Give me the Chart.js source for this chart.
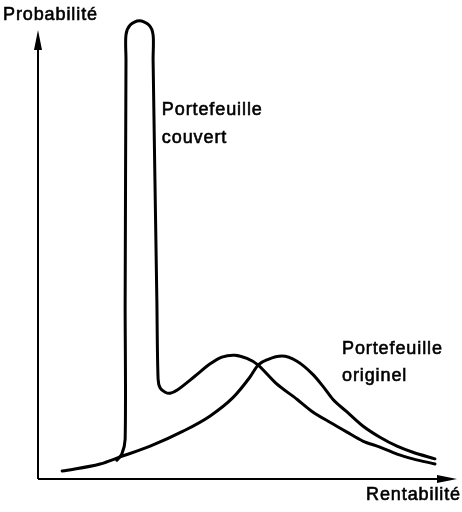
<!DOCTYPE html>
<html>
<head>
<meta charset="utf-8">
<script src="https://cdn.jsdelivr.net/npm/chart.js@4"></script>
<style>
  html, body { margin: 0; padding: 0; background: #fff; }
  #wrap { width: 462px; height: 512px; }
</style>
</head>
<body>
<div id="wrap"><canvas id="chart"></canvas></div>
<script>
// courbes (rentabilité 0-100, probabilité 0-100)
const originelX = [5.8, 14.9, 19.7, 26.9, 34.8, 41.2, 46.8, 50.8, 52.8, 55.2, 58.5, 62.1, 65.9, 68.3, 70.7, 74.1, 77.9, 82.0, 86.1, 89.9, 95.2];
const originelY = [1.7, 3.2, 4.7, 7.0, 10.2, 13.4, 17.4, 21.7, 24.3, 25.5, 26.2, 25.1, 22.3, 19.8, 17.0, 14.3, 11.3, 8.9, 7.0, 5.7, 4.3];
const couvertX = [18.9, 20.1, 20.9, 20.9, 21.1, 21.1, 22.1, 24.3, 26.6, 27.6, 27.6, 28.5, 28.8, 29.3, 30.5, 31.7, 33.6, 37.6, 41.2, 44.1, 47.2, 50.1, 52.8, 57.1, 62.1, 65.9, 70.0, 74.1, 77.9, 82.0, 86.1, 89.9, 95.2];
const couvertY = [4.0, 5.3, 8.5, 38.3, 89.4, 94.7, 96.8, 97.7, 96.8, 94.7, 89.4, 38.3, 21.3, 19.4, 18.5, 18.3, 19.1, 21.9, 24.5, 26.0, 26.4, 25.7, 24.3, 20.4, 17.0, 14.3, 12.1, 10.0, 8.1, 6.8, 5.3, 4.3, 3.2];

const axisX = 'Rentabilité';
const axisY = 'Probabilité';
const labelCouvert = ['Portefeuille', 'couvert'];
const labelOriginel = ['Portefeuille', 'originel'];

const toPoints = (xs, ys) => xs.map((x, i) => ({ x, y: ys[i] }));

const FONT = '18px "Liberation Sans", Arial, sans-serif';

function label(ctx, txt, px, py) {
    ctx.fillText(txt, px, py);
    ctx.strokeText(txt, px, py);
}

// axes avec flèches + textes
const decor = {
    id: 'decor',
    afterDraw(chart) {
        const { ctx, chartArea: a, scales: { x, y } } = chart;
        ctx.save();
        ctx.strokeStyle = '#000';
        ctx.fillStyle = '#000';
        ctx.lineWidth = 2;
        ctx.beginPath();
        ctx.moveTo(a.left, a.bottom);
        ctx.lineTo(a.left, a.top + 30);
        ctx.moveTo(a.left, a.bottom);
        ctx.lineTo(a.right - 10, a.bottom);
        ctx.stroke();
        // flèche verticale
        ctx.beginPath();
        ctx.moveTo(a.left, a.top + 20);
        ctx.lineTo(a.left - 4, a.top + 40);
        ctx.lineTo(a.left + 4, a.top + 40);
        ctx.closePath();
        ctx.fill();
        // flèche horizontale
        ctx.beginPath();
        ctx.moveTo(a.right + 2, a.bottom);
        ctx.lineTo(a.right - 18, a.bottom - 4);
        ctx.lineTo(a.right - 18, a.bottom + 4);
        ctx.closePath();
        ctx.fill();

        ctx.font = FONT;
        ctx.letterSpacing = '0.9px';
        ctx.lineWidth = 0.6;
        ctx.textBaseline = 'alphabetic';
        ctx.textAlign = 'left';
        label(ctx, axisY, 3, 20);
        ctx.textAlign = 'right';
        label(ctx, axisX, 461, 500);
        ctx.textAlign = 'left';
        label(ctx, labelCouvert[0], x.getPixelForValue(29.7), y.getPixelForValue(77.7));
        label(ctx, labelCouvert[1], x.getPixelForValue(29.7), y.getPixelForValue(71.7));
        label(ctx, labelOriginel[0], x.getPixelForValue(72.9), y.getPixelForValue(26.6));
        label(ctx, labelOriginel[1], x.getPixelForValue(72.9), y.getPixelForValue(20.9));
        ctx.restore();
    }
};

new Chart(document.getElementById('chart'), {
    type: 'line',
    data: {
        datasets: [
            { label: 'Portefeuille originel', data: toPoints(originelX, originelY), cubicInterpolationMode: 'monotone' },
            { label: 'Portefeuille couvert', data: toPoints(couvertX, couvertY) }
        ]
    },
    options: {
        responsive: true,
        maintainAspectRatio: false,
        animation: false,
        layout: { padding: { left: 38, right: 7, top: 10, bottom: 33 } },
        elements: {
            line: { borderColor: '#000', borderWidth: 3, tension: 0.3, fill: false, borderCapStyle: 'round', borderJoinStyle: 'round' },
            point: { radius: 0 }
        },
        scales: {
            x: { type: 'linear', min: 0, max: 100, display: false },
            y: { type: 'linear', min: 0, max: 100, display: false }
        },
        plugins: { legend: { display: false }, tooltip: { enabled: false } },
        clip: false
    },
    plugins: [decor]
});
</script>
</body>
</html>
